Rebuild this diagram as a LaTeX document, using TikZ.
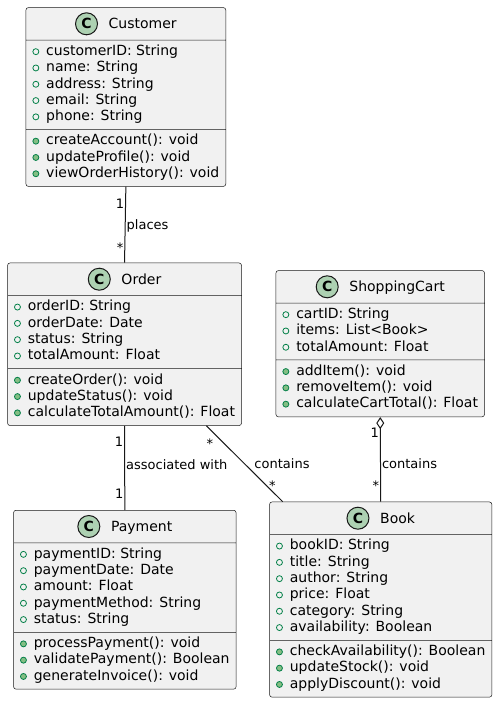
\documentclass[tikz,border=0pt]{standalone}
\usepackage{fontspec}
\setmainfont{DejaVu Sans}
\usetikzlibrary{shapes.multipart,arrows.meta}
\definecolor{classbg}{HTML}{F1F1F1}
\definecolor{linedark}{HTML}{181818}
\definecolor{iconfill}{HTML}{ADD1B2}
\definecolor{markgreen}{HTML}{038048}
\definecolor{methfill}{HTML}{84BE84}
\tikzset{
  umlclass/.style={rectangle split, rectangle split parts=3, draw=linedark, fill=classbg, line width=0.5pt,
    rounded corners=2.5pt, inner xsep=6.5pt, inner ysep=3.75pt, align=left, anchor=north west,
    rectangle split part align={center,left,left}, font=\fontsize{14}{16.3}\selectfont},
  cicon/.style={circle, anchor=center, draw=linedark, fill=iconfill, line width=1pt, minimum size=22pt, inner sep=0pt,
    outer sep=0pt, font=\fontsize{14}{16.3}\selectfont\bfseries},
  attrmark/.style={draw=markgreen, fill=none, line width=0.8pt},
  methmark/.style={draw=markgreen, fill=methfill, line width=0.8pt},
  assoc/.style={draw=linedark, line width=1pt},
  mult/.style={font=\fontsize{13}{15}\selectfont, inner sep=1pt, text height=9.5pt, text depth=0pt}
}
\newcommand{\classhead}[1]{\tikz[baseline=-5.1pt]\node[cicon] at (0pt,0pt) {C};\hspace{10.7pt}#1\rule[-7.15pt]{0pt}{24.5pt}}
\newcommand{\attr}[1]{\tikz[baseline=-3.8pt]\draw[attrmark] (0pt,0pt) circle (3pt);\hspace{7pt}#1\strut}
\newcommand{\meth}[1]{\tikz[baseline=-3.8pt]\draw[methmark] (0pt,0pt) circle (3pt);\hspace{7pt}#1\strut}
\begin{document}
\begin{tikzpicture}[x=1pt, y=-1pt]
	\useasboundingbox (0,0) rectangle (496,702);
	% classes
	\node[umlclass, minimum width=196.6pt] (customer) at (25.7,7.3) {\classhead{Customer}
		\nodepart{two}\attr{customerID: String}\\ \attr{name: String}\\ \attr{address: String}\\ \attr{email: String}\\ \attr{phone: String}
		\nodepart{three}\meth{createAccount(): void}\\ \meth{updateProfile(): void}\\ \meth{viewOrderHistory(): void}};
	\node[umlclass, minimum width=233.4pt] (order) at (7.3,262.7) {\classhead{Order}
		\nodepart{two}\attr{orderID: String}\\ \attr{orderDate: Date}\\ \attr{status: String}\\ \attr{totalAmount: Float}
		\nodepart{three}\meth{createOrder(): void}\\ \meth{updateStatus(): void}\\ \meth{calculateTotalAmount(): Float}};
	\node[umlclass, minimum width=208.3pt] (cart) at (275.7,270.3) {\classhead{ShoppingCart}
		\nodepart{two}\attr{cartID: String}\\ \attr{items: List<Book>}\\ \attr{totalAmount: Float}
		\nodepart{three}\meth{addItem(): void}\\ \meth{removeItem(): void}\\ \meth{calculateCartTotal(): Float}};
	\node[umlclass, minimum width=221pt] (payment) at (13.3,510) {\classhead{Payment}
		\nodepart{two}\attr{paymentID: String}\\ \attr{paymentDate: Date}\\ \attr{amount: Float}\\ \attr{paymentMethod: String}\\ \attr{status: String}
		\nodepart{three}\meth{processPayment(): void}\\ \meth{validatePayment(): Boolean}\\ \meth{generateInvoice(): void}};
	\node[umlclass, minimum width=220.7pt] (book) at (269.3,501.7) {\classhead{Book}
		\nodepart{two}\attr{bookID: String}\\ \attr{title: String}\\ \attr{author: String}\\ \attr{price: Float}\\ \attr{category: String}\\ \attr{availability: Boolean}
		\nodepart{three}\meth{checkAvailability(): Boolean}\\ \meth{updateStock(): void}\\ \meth{applyDiscount(): void}};
	% associations
	\draw[assoc] (customer.south) -- node[mult, anchor=east, pos=0.22] {1} node[mult, anchor=west, pos=0.5] {places} node[mult, anchor=east, pos=0.807] {*} (order.north);
	\draw[assoc] (order.south) -- node[mult, anchor=east, pos=0.194] {1} node[mult, anchor=west, pos=0.457] {associated with} node[mult, anchor=east, pos=0.806] {1} (payment.north);
	\draw[assoc] ([xshift=-35.4pt]order.south east) -- node[mult, pos=0.23, xshift=-14.1pt] {*} node[mult, anchor=west, pos=0.506, xshift=8pt] {contains} node[mult, pos=0.789, xshift=5.9pt] {*} ([xshift=13.4pt]book.north west);
	\draw[assoc, {Diamond[fill=white, length=12pt, width=8pt]}-] (cart.south) -- node[mult, anchor=east, pos=0.186] {1} node[mult, anchor=west, pos=0.55] {contains} node[mult, anchor=east, pos=0.81] {*} (book.north);
\end{tikzpicture}
\end{document}
